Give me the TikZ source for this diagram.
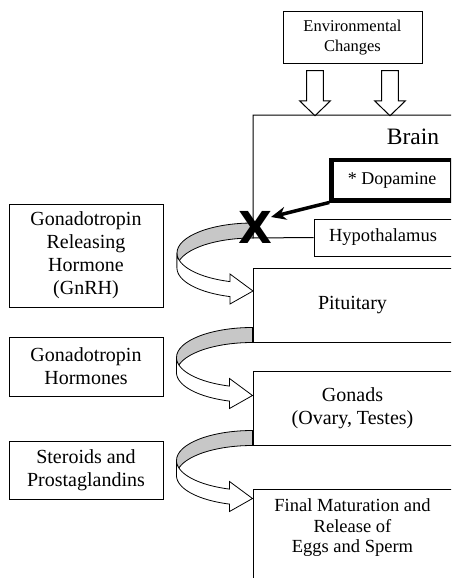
\documentclass[tikz,border=0pt]{standalone}
\usepackage{fontspec}
\setmainfont{Liberation Serif}
\newfontfamily\xfont{DejaVu Sans}
\usetikzlibrary{arrows.meta,calc}
\begin{document}
\begin{tikzpicture}[x=1pt,y=-1pt]
\tikzset{
  ln/.style={draw=black, line width=1pt},
  box/.style={ln, rectangle, inner sep=0pt, align=center, font=\fontsize{20}{23}\selectfont},
  band/.style={draw=black, line width=0.8pt, fill=black!22},
  front/.style={draw=black, line width=0.8pt, fill=white},
  curvarrow/.pic={
    \path[band] (0,-15) .. controls (-42,-15) and (-76,-1.6) .. (-76,15)
      -- (-76,30) .. controls (-76,13.4) and (-42,0) .. (0,0) -- cycle;
    \path[front] (-76,15) -- plot[domain=0:72.4,samples=30,smooth] ({-76*cos(\x)},{15+30*sin(\x)})
      -- (-23,36) -- (0,53) -- (-23,66)
      -- plot[domain=72.4:0,samples=30,smooth] ({-76*cos(\x)},{30+30*sin(\x)}) -- cycle;
  },
  downarrow/.pic={
    \path[front, line width=1pt] (-8.3,0) -- (8.3,0) -- (8.3,30) -- (15.5,30) -- (0,45)
      -- (-15.5,30) -- (-8.3,30) -- cycle;
  }
}
\useasboundingbox (0,0) rectangle (451,578);
\fill[white] (0,0) rectangle (451,578);
\clip (0,0) rectangle (451,578);

% top
\node[box, minimum width=139pt, minimum height=51.5pt, font=\fontsize{16.5}{20}\selectfont] (env) at (352.5,37.5) {Environmental\\Changes};
\pic at ($(env.south)+(-37.5,7)$) {downarrow};
\pic at ($(env.south)+(37.5,7)$) {downarrow};

% brain
\node[font=\fontsize{23.5}{26}\selectfont] (brain) at (413,137) {Brain};
\node[box, line width=4.5pt, minimum width=121pt, minimum height=40.5pt, font=\fontsize{18}{21}\selectfont] (dop) at (392,180) {* Dopamine};
\node[box, minimum width=138pt, minimum height=37pt, font=\fontsize{18.5}{21}\selectfont] (hyp) at (383,237.5) {Hypothalamus};
\coordinate (braintl) at (253,115);
\coordinate (brainbl) at (253,238);
\draw[ln] (455,115) -- (braintl) -- (brainbl) -- (hyp.west);

% right column
\node[box, minimum width=199pt, minimum height=74pt] (pit) at (352.5,305) {Pituitary};
\node[box, minimum width=199pt, minimum height=74pt] (gon) at (352.5,408) {Gonads\\(Ovary, Testes)};
\node[box, minimum width=199pt, minimum height=101pt] (fin) at (352.5,539.5) {};
\node[align=center, font=\fontsize{18.5}{20.5}\selectfont] (fintext) at (352.5,528) {Final Maturation and\\Release of\\Eggs and Sperm};

% left column
\node[box, minimum width=154pt, minimum height=103pt] (gnrh) at (86,255.5) {Gonadotropin\\Releasing\\Hormone\\(GnRH)};
\node[box, minimum width=154pt, minimum height=59pt] (gth) at (86,366.5) {Gonadotropin\\Hormones};
\node[box, minimum width=154pt, minimum height=58pt] (ster) at (86,470) {Steroids and\\Prostaglandins};

% curved arrows
\pic at (brainbl) {curvarrow};
\pic at (pit.south west) {curvarrow};
\pic at (gon.south west) {curvarrow};

% inhibition
\node[inner sep=0pt, font=\xfont\bfseries\fontsize{44}{44}\selectfont] (xm) at (255,227) {X};
\coordinate (xtip) at ($(xm.center)+(16,-10)$);
\draw[line width=3.5pt, -{Stealth[length=15pt,width=13pt]}] (dop.south west) -- (xtip);
\end{tikzpicture}
\end{document}
